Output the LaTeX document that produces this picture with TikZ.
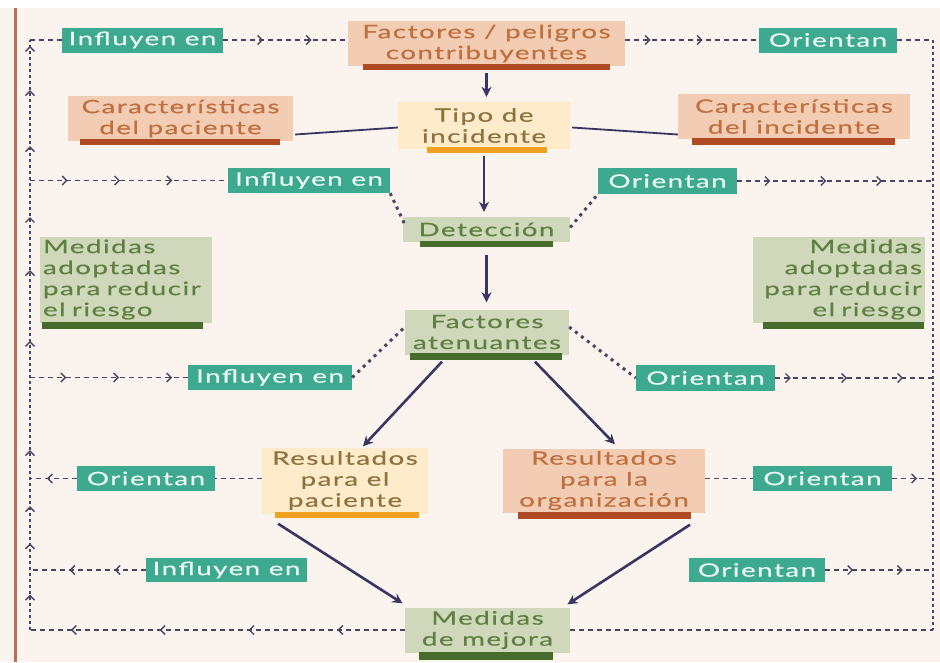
\documentclass[tikz,border=0pt]{standalone}
\usepackage{fontspec}
\setmainfont{Lato}[FakeStretch=1.5,LetterSpace=8,FakeBold=0.4]
\usetikzlibrary{arrows.meta,decorations.markings,calc}

\definecolor{bgc}{HTML}{FBF3EE}
\definecolor{peachfill}{HTML}{F2CDB4}
\definecolor{peachtext}{HTML}{C0703F}
\definecolor{peachbar}{HTML}{B04A25}
\definecolor{yelfill}{HTML}{FDEBC9}
\definecolor{yeltext}{HTML}{8E7240}
\definecolor{yelbar}{HTML}{F0A020}
\definecolor{sagefill}{HTML}{CFD8BA}
\definecolor{sagetext}{HTML}{5E8040}
\definecolor{sagebar}{HTML}{476B2A}
\definecolor{tealfill}{HTML}{3DAA90}
\definecolor{tealtext}{HTML}{EAF7F2}
\definecolor{navy}{HTML}{3B3563}
\definecolor{linec}{HTML}{4A4560}
\definecolor{rule}{HTML}{B8705A}

\tikzset{
  chev/.tip={Straight Barb[length=4.5pt,width=9pt,line width=1.4pt]},
  basebox/.style={inner sep=0pt, align=center, font=\fontsize{18.5}{21}\selectfont},
  peach/.style={basebox, fill=peachfill, text=peachtext},
  yel/.style={basebox, fill=yelfill, text=yeltext},
  sage/.style={basebox, fill=sagefill, text=sagetext},
  tag/.style={basebox, fill=tealfill, text=tealtext},
  flowarrow/.style={draw=navy, line width=2.6pt, -{Stealth[length=10pt,width=10pt]}},
  plainline/.style={draw=navy, line width=1.8pt},
  dashline/.style={draw=linec, line width=1.7pt, dash pattern=on 5pt off 4pt},
  dotline/.style={draw=linec, line width=3pt, dash pattern=on 3pt off 4.5pt},
  vdotline/.style={draw=linec, line width=2.8pt, dash pattern=on 2.8pt off 3.2pt},
  chevs/.style={postaction={decorate, decoration={markings,
      mark=between positions #1 with {\arrow{chev}}}}},
}

\begin{document}
\begin{tikzpicture}[x=1pt,y=-1pt]
  % page and background
  \useasboundingbox (0,0) rectangle (940,662);
  \fill[white] (0,0) rectangle (940,662);
  \fill[bgc] (0,8) rectangle (940,662);
  \fill[rule] (13.5,8) rectangle (17,662);

  % boxes
  \node[peach, minimum width=277, minimum height=45] (fact) at (486.5,43.5) {Factores / peligros\\contribuyentes};
  \node[yel, minimum width=172, minimum height=47] (tipo) at (484,125.5) {Tipo de\\incidente};
  \node[peach, minimum width=225, minimum height=45] (carP) at (180.5,118.5) {Características\\del paciente};
  \node[peach, minimum width=232, minimum height=45] (carI) at (794,116.5) {Características\\del incidente};
  \node[sage, minimum width=167, minimum height=25] (det) at (486.5,229.5) {Detección};
  \node[sage, minimum width=164, minimum height=45] (aten) at (487,332) {Factores\\atenuantes};
  \node[sage, minimum height=86, text width=166, inner xsep=3pt, align=left] (medL) at (126,279.5) {Medidas\\adoptadas\\para reducir\\el riesgo};
  \node[sage, minimum height=86, text width=166, inner xsep=3pt, align=right] (medR) at (839,279.5) {Medidas\\adoptadas\\para reducir\\el riesgo};
  \node[yel, minimum width=166, minimum height=66] (resP) at (345,480.5) {Resultados\\para el\\paciente};
  \node[peach, minimum width=202, minimum height=64] (resO) at (604,480.5) {Resultados\\para la\\organización};
  \node[sage, minimum width=165, minimum height=45] (mej) at (487.5,630) {Medidas\\de mejora};

  % underline bars
  \fill[peachbar] (363,64) rectangle (610,70);
  \fill[yelbar] (427,147) rectangle (547,153);
  \fill[peachbar] (80,139) rectangle (280,145);
  \fill[peachbar] (692,138) rectangle (895,145);
  \fill[sagebar] (420,241) rectangle (553,247);
  \fill[sagebar] (410,353) rectangle (562,360);
  \fill[sagebar] (42,322) rectangle (203,329);
  \fill[sagebar] (763,322) rectangle (924,329);
  \fill[yelbar] (275,512) rectangle (419,518);
  \fill[peachbar] (518,512) rectangle (691,519);
  \fill[sagebar] (419,652) rectangle (553,660);

  % teal tags
  \node[tag, minimum width=161, minimum height=25] (infl1) at (142.5,40) {Influyen en};
  \node[tag, minimum width=138, minimum height=25] (ori1) at (828,40) {Orientan};
  \node[tag, minimum width=162, minimum height=25] (infl2) at (309,180.5) {Influyen en};
  \node[tag, minimum width=139, minimum height=26] (ori2) at (667.5,181) {Orientan};
  \node[tag, minimum width=164, minimum height=25] (infl3) at (270,377.5) {Influyen en};
  \node[tag, minimum width=139, minimum height=26] (ori3) at (705.5,378) {Orientan};
  \node[tag, minimum width=138, minimum height=25] (ori4) at (146,478.5) {Orientan};
  \node[tag, minimum width=139, minimum height=25] (ori5) at (822.5,478.5) {Orientan};
  \node[tag, minimum width=161, minimum height=24] (infl4) at (226.5,570) {Influyen en};
  \node[tag, minimum width=136, minimum height=24] (ori6) at (757,570) {Orientan};

  % frame corners
  \coordinate (tl) at (30,40);
  \coordinate (tr) at (933,40);
  \coordinate (bl) at (30,630);
  \coordinate (br) at (933,630);

  % outer dotted rails
  \draw[vdotline, postaction={decorate, decoration={markings,
      mark=at position 0.06 with {\arrow{chev}},
      mark=at position 0.147 with {\arrow{chev}},
      mark=at position 0.21 with {\arrow{chev}},
      mark=at position 0.305 with {\arrow{chev}},
      mark=at position 0.49 with {\arrow{chev}},
      mark=at position 0.61 with {\arrow{chev}},
      mark=at position 0.70 with {\arrow{chev}},
      mark=at position 0.82 with {\arrow{chev}},
      mark=at position 0.915 with {\arrow{chev}},
      mark=at position 0.99 with {\arrow{chev}}}}] (bl) -- (tl);
  \draw[vdotline] (tr) -- (br);

  % main flow
  \draw[flowarrow, shorten <=7pt, shorten >=5pt] (fact.south) -- (fact.south |- tipo.north);
  \draw[flowarrow, shorten <=7pt, shorten >=5pt] (tipo.south) -- (tipo.south |- det.north);
  \draw[flowarrow, shorten <=13pt, shorten >=7pt] (det.south) -- (det.south |- aten.north);
  \draw[flowarrow] ($(aten.south)+(-45,7)$) -- ($(resP.north)+(18,-1)$);
  \draw[flowarrow] ($(aten.south)+(48,7)$) -- ($(resO.north)+(11,-4)$);
  \draw[flowarrow] ($(resP.south)+(-67,10)$) -- ($(mej.north)+(-85,-4)$);
  \draw[flowarrow] ($(resO.south)+(86,12)$) -- ($(mej.north)+(80,-3)$);

  % links to incident type
  \draw[plainline] ($(carP.east)+(2,16)$) -- ($(tipo.west)+(0,2)$);
  \draw[plainline] ($(tipo.east)+(2,2)$) -- ($(carI.west)+(0,18)$);

  % dotted links between tags and stages
  \draw[dotline] (infl2.south east) -- ($(det.west)+(2,-5)$);
  \draw[dotline] ($(det.east)+(0,-2)$) -- (ori2.south west);
  \draw[dotline] (infl3.east) -- ($(aten.west)+(0,-5)$);
  \draw[dotline] ($(aten.east)+(0,-5)$) -- (ori3.west);

  % dashed feedback lines, top row
  \draw[dashline] (tl) -- (infl1.west);
  \draw[dashline, chevs={0.32 and 0.75 step 0.39}] (infl1.east) -- (fact.west |- infl1.east);
  \draw[dashline, chevs={0.19 and 0.6 step 0.39}] (fact.east |- ori1.west) -- (ori1.west);
  \draw[dashline] (ori1.east) -- (tr);

  % second row
  \draw[dashline, chevs={0.19 and 0.75 step 0.265}] (tl |- infl2.west) -- (infl2.west);
  \draw[dashline, chevs={0.17 and 0.78 step 0.285}] (ori2.east) -- (tr |- ori2.east);

  % third row
  \draw[dashline, chevs={0.23 and 0.92 step 0.335}] (tl |- infl3.west) -- (infl3.west);
  \draw[dashline, chevs={0.1 and 0.85 step 0.355}] (ori3.east) -- (tr |- ori3.east);

  % fourth row
  \draw[dashline] (resP.west |- ori4.east) -- (ori4.east);
  \draw[dashline, chevs={0.64 and 0.7 step 0.5}] (ori4.west) -- (tl |- ori4.west);
  \draw[dashline] (resO.east |- ori5.west) -- (ori5.west);
  \draw[dashline, chevs={0.61 and 0.7 step 0.5}] (ori5.east) -- (tr |- ori5.east);

  % fifth row
  \draw[dashline, chevs={0.27 and 0.7 step 0.39}] (infl4.west) -- (tl |- infl4.west);
  \draw[dashline, chevs={0.26 and 0.75 step 0.46}] (ori6.east) -- (tr |- ori6.east);

  % bottom row
  \draw[dashline, chevs={0.18 and 0.92 step 0.237}] (mej.west) -- (bl);
  \draw[dashline] (mej.east) -- (br);
\end{tikzpicture}
\end{document}
